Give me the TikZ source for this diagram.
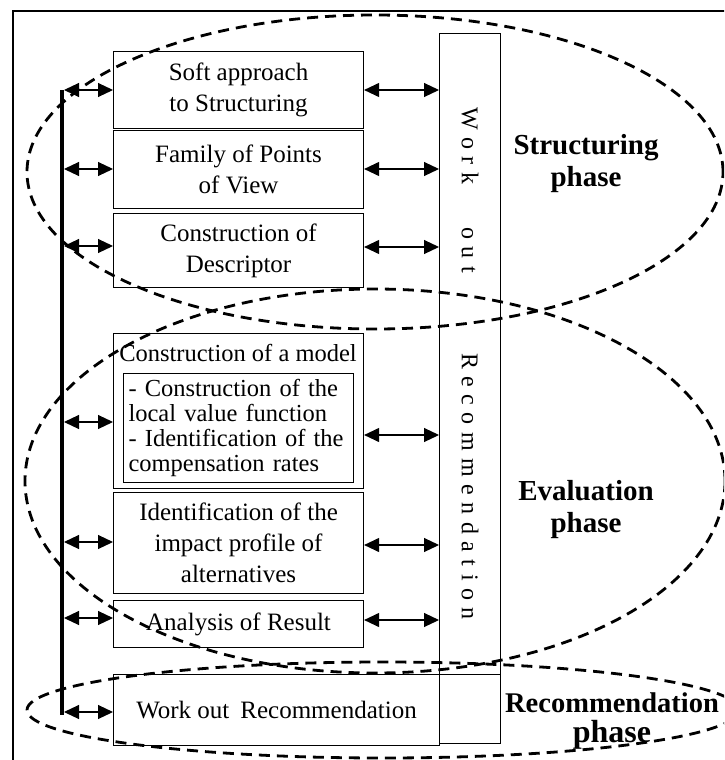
\documentclass[tikz,border=0pt]{standalone}
\usepackage{fontspec}
\setmainfont{Liberation Serif}
\usetikzlibrary{arrows.meta}
\newcommand\lsp{\kern7.5pt}
\begin{document}
\begin{tikzpicture}[x=1pt,y=-1pt,
  box/.style={draw, line width=1.1pt, inner sep=2pt, align=center, anchor=north west,
    font=\fontsize{25}{31}\selectfont},
  plainbox/.style={draw, line width=1.1pt, inner sep=0pt, anchor=north west},
  dbl/.style={line width=1.1pt, {Triangle[length=15pt,width=14pt]}-{Triangle[length=15pt,width=14pt]}},
  phaseline/.style={dash pattern=on 11pt off 7pt, line width=2.8pt},
  lbl/.style={font=\bfseries\fontsize{29}{32}\selectfont, align=center, inner sep=0pt},
]
\useasboundingbox (0,0) rectangle (724,760);
\clip (0,0) rectangle (724,760);
\draw[line width=1.1pt] (13,11) rectangle (740,780);

% left boxes
\node[box, minimum width=250pt, minimum height=77pt] (soft) at (113,51) {Soft approach\\to Structuring};
\node[box, minimum width=250pt, minimum height=78pt] (family) at (113,130) {Family of Points\\of View};
\node[box, minimum width=250pt, minimum height=74pt] (descr) at (113,213) {Construction of\\Descriptor};
\node[plainbox, minimum width=250pt, minimum height=155pt] (model) at (113,333) {};
\node[anchor=base, inner sep=0pt, font=\fontsize{24.5}{31}\selectfont] (modeltitle) at (238,361) {Construction of a model};
\node[plainbox, minimum width=230pt, minimum height=109pt, text width=220pt, inner sep=5pt, align=left,
  font=\fontsize{24.5}{25}\selectfont] (inner) at (123,373)
  {- Construction of the\\local value function\\- Identification of the\\compensation rates};
\node[box, minimum width=250pt, minimum height=101pt] (ident) at (113,492) {Identification of the\\impact profile of\\alternatives};
\node[box, minimum width=250pt, minimum height=47pt] (analysis) at (113,600) {Analysis of Result};
\node[box, minimum width=326pt, minimum height=71pt] (workout) at (113,674) {Work out\hspace{11pt}Recommendation};

% tall box
\node[plainbox, minimum width=61pt, minimum height=641pt] (wo) at (439,33) {};
\node[plainbox, minimum width=61pt, minimum height=69pt] (wosq) at (439,674) {};
\node[rotate=-90, anchor=west, inner sep=0pt, font=\fontsize{24}{24}\selectfont] (vtext) at (470,107)
  {W\lsp o\lsp r\lsp k\hspace{43pt}o\lsp u\lsp t\hspace{80pt}R\lsp e\lsp c\lsp o\lsp m\lsp m\lsp e\lsp n\lsp d\lsp a\lsp t\lsp i\lsp o\lsp n};

% spine
\coordinate (sTop) at (62,90);
\coordinate (sBot) at (62,715);
\draw[line width=4pt] (sTop) -- (sBot);

% left arrows
\coordinate (l1) at (64,90);
\coordinate (l2) at (64,169);
\coordinate (l3) at (64,246);
\coordinate (l4) at (64,422);
\coordinate (l5) at (64,542);
\coordinate (l6) at (64,618);
\coordinate (l7) at (64,712);
\draw[dbl] (l1) -- (l1 -| soft.west);
\draw[dbl] (l2) -- (l2 -| family.west);
\draw[dbl] (l3) -- (l3 -| descr.west);
\draw[dbl] (l4) -- (l4 -| model.west);
\draw[dbl] (l5) -- (l5 -| ident.west);
\draw[dbl] (l6) -- (l6 -| analysis.west);
\draw[dbl] (l7) -- (l7 -| workout.west);

% right arrows
\coordinate (r1) at (363,90);
\coordinate (r2) at (363,169);
\coordinate (r3) at (363,247);
\coordinate (r4) at (363,435);
\coordinate (r5) at (363,545);
\coordinate (r6) at (363,620);
\draw[dbl] (r1 -| soft.east) -- (r1 -| wo.west);
\draw[dbl] (r2 -| family.east) -- (r2 -| wo.west);
\draw[dbl] (r3 -| descr.east) -- (r3 -| wo.west);
\draw[dbl] (r4 -| model.east) -- (r4 -| wo.west);
\draw[dbl] (r5 -| ident.east) -- (r5 -| wo.west);
\draw[dbl] (r6 -| analysis.east) -- (r6 -| wo.west);

% phase labels
\node[lbl] (structlbl) at (586,164) {Structuring\\phase};
\node[lbl] (evallbl) at (586,510) {Evaluation\\phase};
\node[lbl, font=\bfseries\fontsize{28.5}{30}\selectfont] (reclbl) at (612,721)
  {Recommendation\\{\fontsize{32}{30}\selectfont phase}};

% phase ellipses
\draw[phaseline] (375,172) ellipse [x radius=348pt, y radius=157pt];
\draw[phaseline] (375,481) ellipse [x radius=350pt, y radius=192pt];
\draw[phaseline] (383,710) ellipse [x radius=356pt, y radius=48pt];
\end{tikzpicture}
\end{document}
